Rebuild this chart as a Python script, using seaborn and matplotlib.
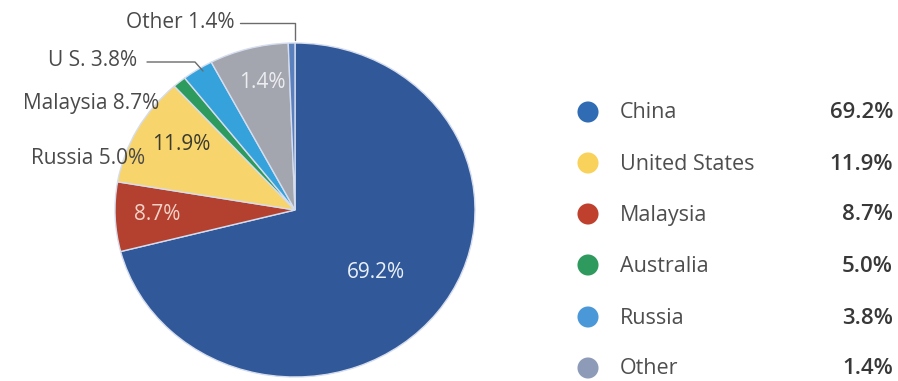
import matplotlib
matplotlib.use("Agg")
import matplotlib.pyplot as plt
import seaborn as sns
import pandas as pd

# ---- data ----
# wedge shares as they appear in the drawing (clockwise from 12 o'clock)
slice_names = ["China", "Malaysia", "United States", "Australia", "Russia", "Other-grey", "Other"]
slice_shares = [71.0, 6.7, 10.6, 1.2, 2.8, 7.1, 0.6]
slice_inner_labels = ["69.2%", "8.7%", "11.9%", "", "", "1.4%", ""]

outer_labels = ["Other 1.4%", "U S. 3.8%", "Malaysia 8.7%", "Russia 5.0%"]

legend_names = ["China", "United States", "Malaysia", "Australia", "Russia", "Other"]
legend_values = ["69.2%", "11.9%", "8.7%", "5.0%", "3.8%", "1.4%"]

# ---- styles ----
slice_colors = ["#31599A", "#B4412F", "#F8D46C", "#2E9B5E", "#36A2DC", "#A3A6AE", "#5A80BE"]
inner_text_colors = ["#EAF0F8", "#F4D2C8", "#3B3B2E", "white", "white", "#ECEDF1", "white"]
legend_colors = ["#2F6CB4", "#F8D25A", "#BE402D", "#2E9A5E", "#4A98D8", "#8D9BB8"]

sns.set_theme(style="white")
plt.rcParams["font.family"] = ["Open Sans", "DejaVu Sans"]

W, H = 898, 381
fig = plt.figure(figsize=(W / 100, H / 100), dpi=100)
fig.patch.set_facecolor("white")

# pie axes: ellipse center (295,210) px, rx=180, ry=167
cx, cy, rx, ry = 295, 210, 180, 167
left_px, width_px = 85, 420
pax = fig.add_axes([left_px / W, 0, width_px / W, 1])
wedges, _ = pax.pie(
    slice_shares, colors=slice_colors, startangle=90, counterclock=False,
    radius=1.0, wedgeprops=dict(edgecolor="#D5DDEE", linewidth=1.0),
)
pax.set_aspect("auto")
pax.set_xlim((left_px - cx) / rx, (left_px + width_px - cx) / rx)
pax.set_ylim(-(H - cy) / ry, cy / ry)
pax.axis("off")

# overlay axes in pixel coordinates
ax = fig.add_axes([0, 0, 1, 1], facecolor="none")

# legend dots (seaborn)
ys = [112, 163, 214, 265, 317, 368]
leg = pd.DataFrame({"x": [588] * 6, "y": ys, "name": legend_names})
sns.scatterplot(data=leg, x="x", y="y", hue="name", palette=legend_colors,
                s=230, edgecolor="none", legend=False, ax=ax)
ax.set_xlim(0, W)
ax.set_ylim(H, 0)
ax.axis("off")

# inner labels
inner_pos = {0: (376, 273), 1: (157, 214), 2: (181, 145), 5: (262, 82)}
for i, (x, y) in inner_pos.items():
    ax.text(x, y, slice_inner_labels[i], color=inner_text_colors[i], fontsize=15,
            ha="center", va="center")

# outer labels with leader lines
txt_col = "#4A4A4A"
line_col = "#6B6B6B"
ofs = 15
ax.text(235, 23, outer_labels[0], fontsize=ofs, color=txt_col, ha="right", va="center")
ax.plot([240, 295, 295], [23, 23, 40], color=line_col, lw=1)
ax.text(137, 61, outer_labels[1], fontsize=ofs, color=txt_col, ha="right", va="center")
ax.plot([147, 195, 203], [62, 62, 71], color=line_col, lw=1)
ax.text(159, 103, outer_labels[2], fontsize=ofs, color=txt_col, ha="right", va="center")
ax.text(145, 159, outer_labels[3], fontsize=ofs, color=txt_col, ha="right", va="center")

for y, n, v in zip(ys, legend_names, legend_values):
    ax.text(620, y + 1, n, fontsize=15.5, color="#4E4E4E", ha="left", va="center")
    ax.text(893, y + 1, v, fontsize=16, color="#383838", ha="right", va="center",
            fontweight="semibold")

fig.savefig("out.png", dpi=100)
